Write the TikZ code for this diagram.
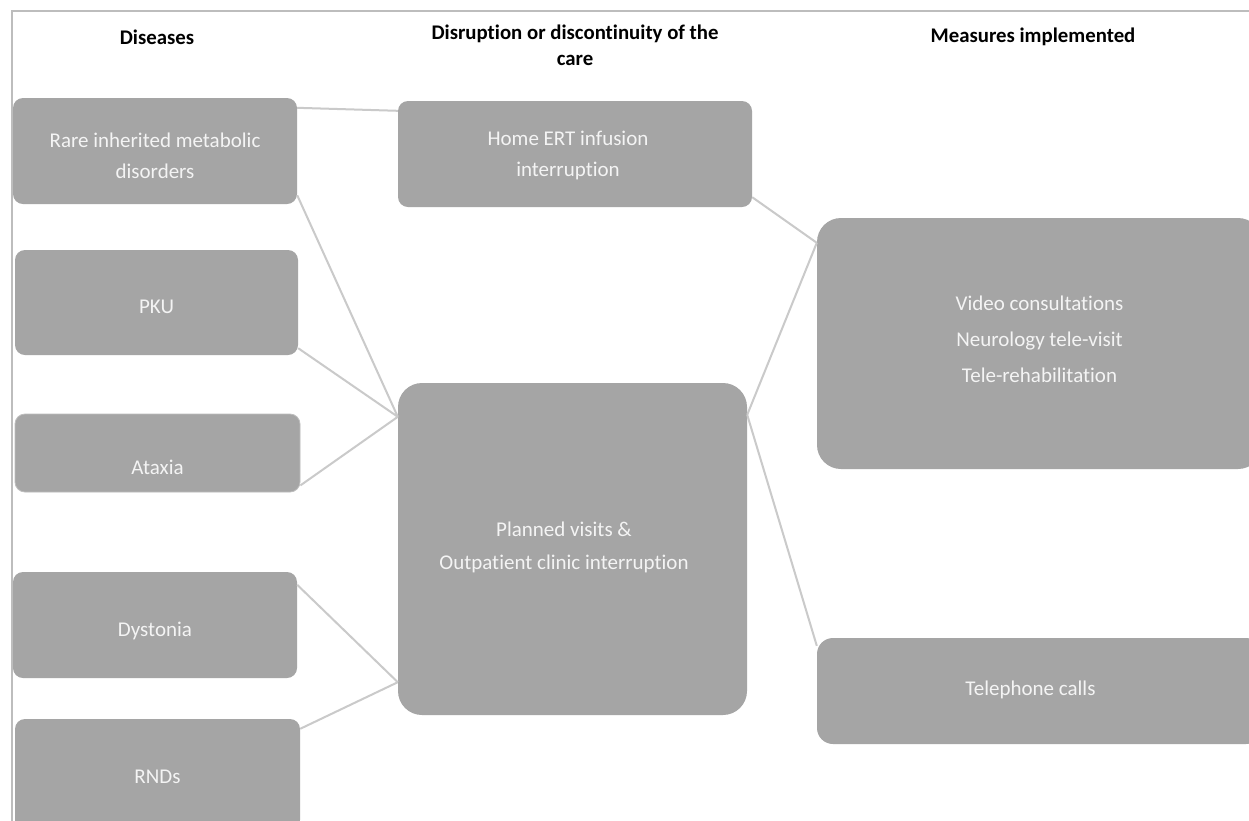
\documentclass[tikz,border=0pt]{standalone}
\usepackage{fontspec}
\setmainfont[Ligatures=NoCommon]{Carlito}
\usetikzlibrary{calc}
\definecolor{boxfill}{HTML}{A5A5A5}
\definecolor{boxtext}{HTML}{F4F4F4}
\definecolor{linkc}{HTML}{CACACA}
\definecolor{framec}{HTML}{BDBDBD}
\tikzset{
  card/.style={rectangle, fill=boxfill, inner sep=0pt, rounded corners=10pt},
  cardtext/.style={text=boxtext, align=center, inner sep=0pt, font=\fontsize{21}{31}\selectfont},
  head/.style={align=center, font=\fontsize{20.8}{26}\selectfont\bfseries, text=black},
  link/.style={draw=linkc, line width=2pt},
}
\begin{document}
\begin{tikzpicture}[x=1pt,y=-1pt]
\clip (0,0) rectangle (1249,820);
\fill[white] (0,0) rectangle (1249,820);
\draw[framec, line width=2pt] (12,830) -- (12,11) -- (1260,11);

\node[head] (h1) at (157,37) {Diseases};
\node[head] (h2) at (575,45) {Disruption or discontinuity of the\\care};
\node[head] (h3) at (1033,37) {Measures implemented};

% boxes
\node[card, minimum width=284pt, minimum height=106pt] (rare) at (155,151) {};
\node[card, minimum width=283pt, minimum height=105pt] (pku) at (156.5,302.5) {};
\node[card, minimum width=285pt, minimum height=78pt, draw=framec, line width=0.8pt] (atax) at (157.5,453) {};
\node[card, minimum width=284pt, minimum height=106pt] (dyst) at (155,625) {};
\node[card, minimum width=285pt, minimum height=111pt] (rnds) at (157.5,774.5) {};
\node[card, minimum width=354pt, minimum height=106pt] (home) at (575,154) {};
\node[card, minimum width=349pt, minimum height=332pt, rounded corners=24pt] (plan) at (572.5,549) {};
\node[card, minimum width=445pt, minimum height=251pt, rounded corners=24pt] (video) at (1039.5,343.5) {};
\node[card, minimum width=445pt, minimum height=106pt, rounded corners=16pt] (tel) at (1039.5,691) {};

% texts
\node[cardtext] (rareT) at ($(rare.center)+(0,5)$) {Rare inherited metabolic\\disorders};
\node[cardtext] (pkuT) at ($(pku.center)+(0,4.5)$) {PKU};
\node[cardtext] (ataxT) at ($(atax.center)+(0,14)$) {Ataxia};
\node[cardtext] (dystT) at ($(dyst.center)+(0,6)$) {Dystonia};
\node[cardtext] (rndsT) at ($(rnds.center)+(0,2.5)$) {RNDs};
\node[cardtext] (homeT) at ($(home.center)+(-7,1.5)$) {Home ERT infusion\\interruption};
\node[cardtext, font=\fontsize{21}{33}\selectfont] (planT) at ($(plan.center)+(-8.5,-2)$) {Planned visits \&\\Outpatient clinic interruption};
\node[cardtext, font=\fontsize{21}{36}\selectfont] (videoT) at ($(video.center)+(0,-4.5)$) {Video consultations\\Neurology tele-visit\\Tele-rehabilitation};
\node[cardtext] (telT) at ($(tel.center)+(-9,-1)$) {Telephone calls};

\coordinate (pinA) at ($(plan.north west)+(0,34)$);
\coordinate (pinB) at ($(plan.south west)+(0,-33)$);
\coordinate (pinC) at ($(plan.north east)+(0,32)$);

\draw[link] ($(rare.north east)+(0,10)$) -- ($(home.north west)+(0,10)$);
\draw[link] ($(rare.south east)+(0,-9)$) -- (pinA);
\draw[link] ($(pku.south east)+(0,-7)$) -- (pinA);
\draw[link] ($(atax.south east)+(0,-7)$) -- (pinA);
\draw[link] ($(dyst.north east)+(0,13)$) -- (pinB);
\draw[link] ($(rnds.north east)+(0,10)$) -- (pinB);
\draw[link] ($(home.south east)+(0,-10)$) -- ($(video.north west)+(0,25)$);
\draw[link] (pinC) -- ($(video.north west)+(0,25)$);
\draw[link] (pinC) -- ($(tel.north west)+(0,8)$);
\end{tikzpicture}
\end{document}
